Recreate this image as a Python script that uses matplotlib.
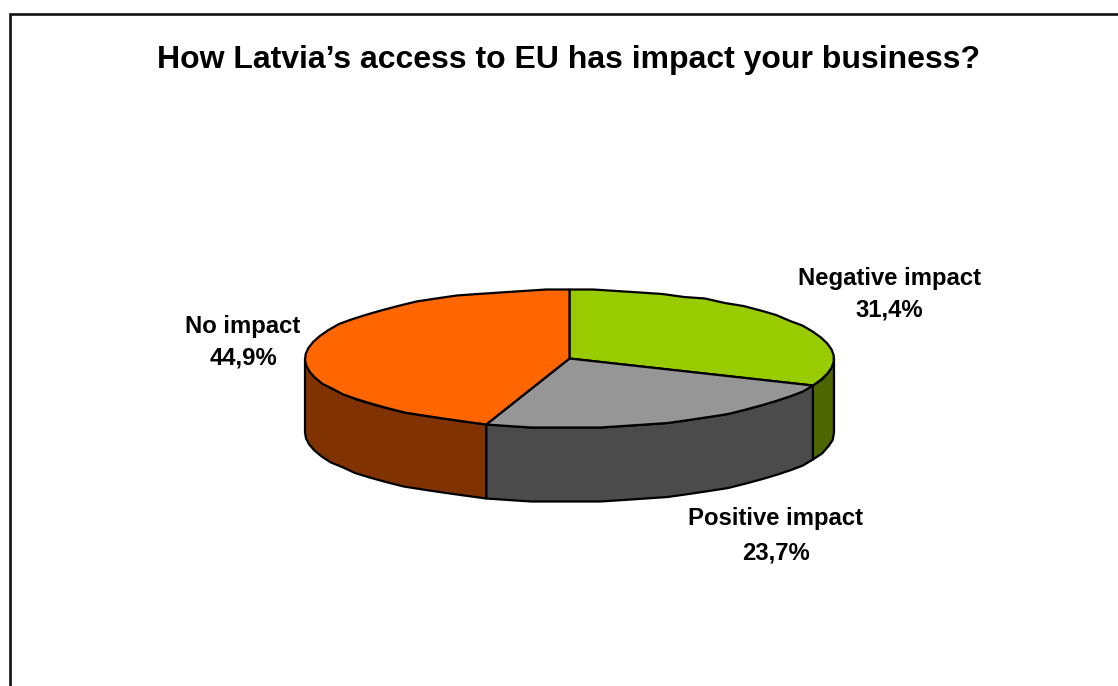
import matplotlib
matplotlib.use("Agg")
import matplotlib.pyplot as plt
import numpy as np

labels = ["Negative impact", "Positive impact", "No impact"]
shares = [31.4, 23.7, 44.9]
top_colors = ["#99cc00", "#969696", "#ff6600"]
side_colors = ["#4d6600", "#4b4b4b", "#803300"]
# centre x, y of the name line, y of the percent line
label_pos = [(889, 279, 310), (776, 518, 553), (243, 326, 358)]

plt.rcParams["font.family"] = ["Liberation Sans", "DejaVu Sans"]

W, H = 1118, 686
CX, CY = 569.5, 358.5
RX, RY = 264.5, 69
DEPTH = 74


def rim(a0, a1):
    # angles clockwise from 12 o'clock, in degrees; coarse steps give the faceted outline
    n = max(2, int(abs(a1 - a0) / 5) + 1)
    a = np.radians(np.linspace(a0, a1, n))
    x = CX + RX * np.sin(a)
    y = CY - RY * np.cos(a)
    return x, np.round(y / 1.5) * 1.5


fig = plt.figure(figsize=(W / 100, H / 100), dpi=100)
ax = fig.add_axes([0, 0, 1, 1])
ax.set_xlim(0, W)
ax.set_ylim(H, 0)
ax.axis("off")

# chart frame, open at the bottom edge of the image
ax.plot([9.5, 9.5, W + 5], [H + 5, 13.5, 13.5], color="#111111", lw=1.9, solid_joinstyle="miter")

edges = np.cumsum([0] + shares) * 3.6

# outer walls: only the part of each slice facing the viewer (90..270 deg)
for i in range(len(shares)):
    a0, a1 = max(edges[i], 90), min(edges[i + 1], 270)
    if a0 >= a1:
        continue
    x, y = rim(a0, a1)
    ax.fill(np.r_[x, x[::-1]], np.r_[y, y[::-1] + DEPTH],
            fc=side_colors[i], ec="black", lw=1.6, joinstyle="round")

# top faces
for i in range(len(shares)):
    x, y = rim(edges[i], edges[i + 1])
    ax.fill(np.r_[CX, x], np.r_[CY, y], fc=top_colors[i], ec="black", lw=1.6, joinstyle="round")

for name, share, (lx, y1, y2) in zip(labels, shares, label_pos):
    txt = f"{share:.1f}%".replace(".", ",")
    ax.text(lx, y1, name, ha="center", va="center", fontsize=17.2, fontweight="bold", color="black")
    ax.text(lx, y2, txt, ha="center", va="center", fontsize=17.2, fontweight="bold", color="black")

ax.text(569, 60, "How Latvia\u2019s access to EU has impact your business?", ha="center", va="center",
        fontsize=23, fontweight="bold", color="black")

fig.savefig("out.png", dpi=100)
